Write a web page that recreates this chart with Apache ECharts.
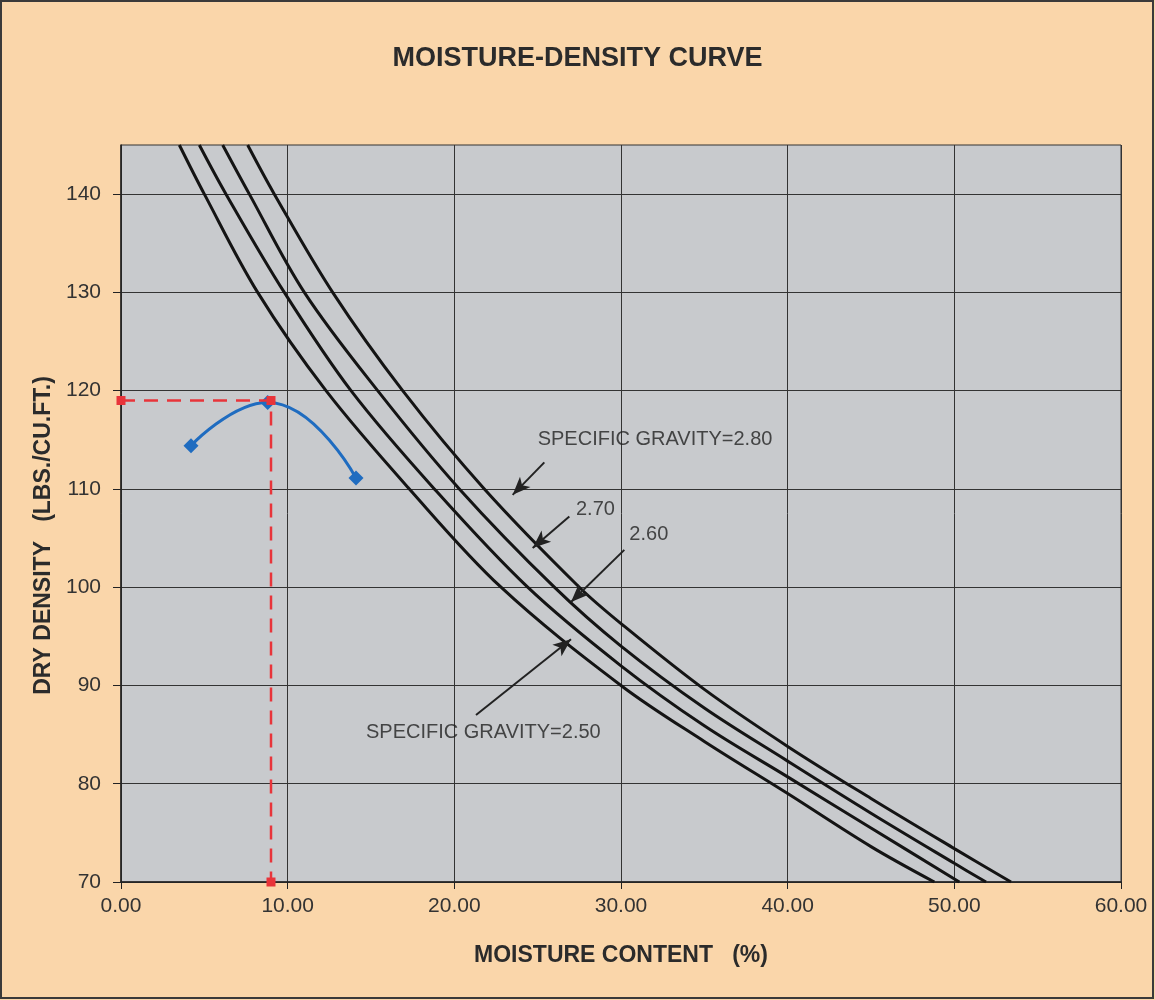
<!DOCTYPE html>
<html>
<head>
<meta charset="utf-8">
<title>Moisture-Density Curve</title>
<script src="https://cdn.jsdelivr.net/npm/echarts@6/dist/echarts.min.js"></script>
<style>
  html, body { margin: 0; padding: 0; background: #fad6aa; }
  #chartMD { width: 1155px; height: 1000px; }
</style>
</head>
<body>
<div id="chartMD"></div>
<script>
// x = moisture content (%), y = dry density (lbs/cu.ft)
const zav250 = [[3.5, 145], [5.0, 140], [8.2, 130], [12.3, 120], [17.3, 110], [22.8, 100], [30, 90.0], [35, 84.3], [40, 79.0], [45, 73.6], [48.8, 70]]
const zav260 = [[4.7, 145], [6.3, 140], [9.8, 130], [13.8, 120], [18.8, 110], [24.4, 100], [30, 92.0], [35, 85.9], [40, 80.7], [45, 75.5], [50.3, 70]]
const zav270 = [[6.1, 145], [7.7, 140], [11.0, 130], [15.4, 120], [20.3, 110], [26.0, 100], [30, 94.0], [35, 87.7], [40, 82.3], [45, 77.0], [50, 71.9], [51.9, 70]]
const zav280 = [[7.6, 145], [9.2, 140], [12.7, 130], [16.9, 120], [21.8, 110], [27.5, 100], [30, 96.3], [35, 89.6], [40, 83.8], [45, 78.5], [50, 73.4], [53.4, 70]]

// compaction test points
const testPoints = [[4.2, 114.4], [8.8, 118.8], [14.1, 111.1]]
// max dry density / optimum moisture guide
const optimumGuide = [[0, 119.0], [9.0, 119.0], [9.0, 70]]

const yTicks = [70, 80, 90, 100, 110, 120, 130, 140]

// annotation text and arrows (data coords)
const noteNames = ['SPECIFIC GRAVITY=2.80', '2.70', '2.60', 'SPECIFIC GRAVITY=2.50']
const notePos = [[25.0, 115.0], [27.3, 107.9], [30.5, 105.4], [14.7, 85.2]]
const arrowFrom = [[25.4, 112.7], [26.9, 107.2], [30.2, 103.8], [21.3, 87.0]]
const arrowTo = [[23.5, 109.4], [24.7, 104.0], [27.0, 98.5], [27.0, 94.7]]

const FONT = '"Liberation Sans", Arial, sans-serif'

function curveSeries(name, data) {
  return {
    name: name,
    type: 'line',
    data: data,
    smooth: 0.35,
    symbol: 'none',
    lineStyle: { color: '#141414', width: 3 },
    z: 3
  }
}

let notes = noteNames.map((n, i) => {
  return { name: n, value: notePos[i] }
})
let arrows = arrowFrom.map((p, i) => {
  return [{ coord: p, symbol: 'none' }, { coord: arrowTo[i], symbol: 'arrow' }]
})

const option = {
  animation: false,
  backgroundColor: '#fad6aa',
  title: {
    text: 'MOISTURE-DENSITY CURVE',
    left: 'center',
    top: 40,
    textStyle: { fontFamily: FONT, fontSize: 27, fontWeight: 'bold', color: '#2b2b2b' }
  },
  grid: {
    left: 121,
    right: 34,
    top: 145,
    bottom: 118,
    show: true,
    backgroundColor: '#c8cacd',
    borderColor: '#333',
    borderWidth: 1
  },
  graphic: [{
    type: 'rect',
    shape: { x: 1, y: 1, width: 1152, height: 997 },
    style: { fill: null, stroke: '#3a3a3a', lineWidth: 2 },
    silent: true
  }],
  xAxis: {
    type: 'value',
    min: 0,
    max: 60,
    interval: 10,
    name: 'MOISTURE CONTENT   (%)',
    nameLocation: 'middle',
    nameGap: 62,
    nameTextStyle: { fontFamily: FONT, fontSize: 23, fontWeight: 'bold', color: '#2b2b2b' },
    axisLine: { show: true, lineStyle: { color: '#222', width: 1.5 } },
    axisTick: { show: true, length: 7, lineStyle: { color: '#222' } },
    axisLabel: {
      margin: 14,
      fontFamily: FONT,
      fontSize: 21,
      color: '#333',
      formatter: (v) => v.toFixed(2)
    },
    splitLine: { show: true, lineStyle: { color: '#333', width: 1 } }
  },
  yAxis: {
    type: 'value',
    min: 70,
    max: 145,
    interval: 10,
    name: 'DRY DENSITY   (LBS./CU.FT.)',
    nameLocation: 'middle',
    nameGap: 62,
    nameTextStyle: {
      fontFamily: FONT,
      fontSize: 23,
      fontWeight: 'bold',
      color: '#2b2b2b',
      padding: [0, 44, 0, 0]
    },
    axisLine: { show: true, lineStyle: { color: '#222', width: 1.5 } },
    axisTick: { show: true, length: 8, customValues: yTicks, lineStyle: { color: '#222' } },
    axisLabel: {
      margin: 20,
      fontFamily: FONT,
      fontSize: 21,
      color: '#333',
      customValues: yTicks
    },
    splitLine: { show: true, lineStyle: { color: '#333', width: 1 } }
  },
  series: [
    curveSeries('2.50', zav250),
    curveSeries('2.60', zav260),
    curveSeries('2.70', zav270),
    curveSeries('2.80', zav280),
    {
      name: 'test',
      type: 'line',
      data: testPoints,
      smooth: true,
      symbol: 'diamond',
      symbolSize: 15,
      itemStyle: { color: '#1f6cc0' },
      lineStyle: { color: '#1f6cc0', width: 3 },
      z: 4
    },
    {
      name: 'optimum',
      type: 'line',
      data: optimumGuide,
      symbol: 'rect',
      symbolSize: 9,
      itemStyle: { color: '#e8343a' },
      lineStyle: { color: '#e8343a', width: 2.5, type: [14, 9] },
      z: 5
    },
    {
      name: 'notes',
      type: 'scatter',
      data: notes,
      symbolSize: 0,
      silent: true,
      label: {
        show: true,
        position: [0, 0],
        align: 'left',
        verticalAlign: 'middle',
        formatter: '{b}',
        fontFamily: FONT,
        fontSize: 20,
        color: '#222'
      },
      markLine: {
        silent: true,
        symbolSize: [11, 18],
        label: { show: false },
        lineStyle: { color: '#222', width: 2, type: 'solid' },
        data: arrows
      },
      z: 6
    }
  ]
}

var chartDom = document.getElementById('chartMD')
var myChart = echarts.init(chartDom)
myChart.setOption(option)
</script>
</body>
</html>
